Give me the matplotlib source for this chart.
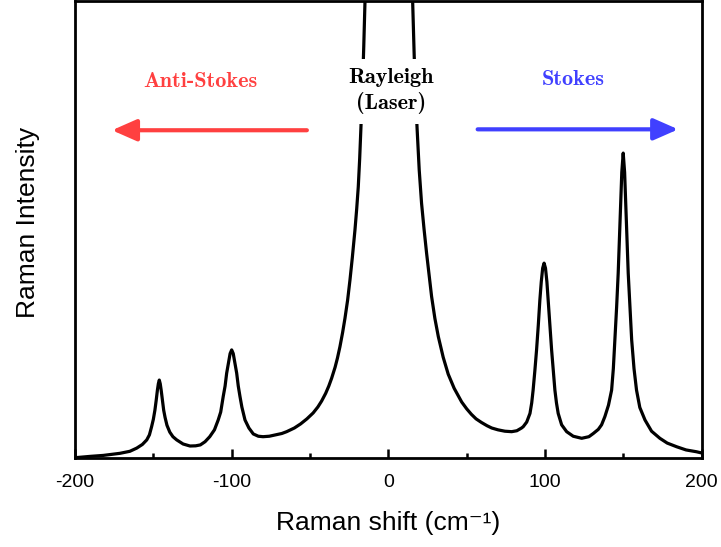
import matplotlib
matplotlib.use('Agg')
import matplotlib.pyplot as plt

# Raman shift (cm^-1) and normalised intensity
shift = [-200, -190, -182, -171.3, -165, -160.6, -157, -154.2, -152.5, -151.1,
         -150, -149, -148.2, -147.4, -146.8, -146.2, -145.6, -145, -144.2, -143.4,
         -142.5, -141.3, -139.5, -137.5, -135.1, -131, -126.6, -123, -120, -117,
         -114, -111, -108.6, -107, -105.4, -104.2, -103.2, -102, -101, -100,
         -99, -98, -96.8, -95.8, -94.7, -93.5, -91.5, -89, -86.2, -83,
         -80, -76, -72, -68, -64.9, -60, -56, -52, -48, -45,
         -42.6, -40, -38, -36.2, -34, -32.5, -30.9, -29.2, -27.7, -26,
         -24.5, -23, -21.3, -20.2, -19.2, -18.3, -17.5, -16.6, -15.7, -14.9,
         -14.5, 0.3, 15.1, 15.5, 16.5, 17.4, 18.4, 19.7, 21.2, 22.8,
         24.4, 26, 27.6, 29.7, 31.9, 35.0, 38.2, 42, 46.8, 50,
         53, 56, 59.5, 63, 66, 70, 74.4, 78.7, 82, 85,
         86.1, 88.3, 90.4, 91.5, 92.4, 93.5, 94.6, 95.7, 96.7, 97.6,
         98.5, 99.4, 100.3, 101.2, 102.0, 103.1, 104.2, 105.3, 106.3, 107.3,
         108.4, 110.6, 113.8, 118, 123.4, 128, 130.8, 134, 136.1, 138.2,
         140.5, 142.5, 143.6, 144.6, 145.7, 146.7, 147.5, 148.2, 149, 149.9,
         150.8, 151.6, 152.4, 153.1, 154.2, 155.3, 156.8, 158.4, 160.5, 163.8,
         168, 173.3, 178, 184, 190, 196.7, 200]
intensity = [0.000, 0.003, 0.005, 0.0096, 0.014, 0.021, 0.029, 0.039, 0.050, 0.068,
             0.084, 0.104, 0.125, 0.148, 0.162, 0.170, 0.162, 0.148, 0.125, 0.104,
             0.088, 0.071, 0.056, 0.046, 0.039, 0.030, 0.0256, 0.026, 0.028, 0.035,
             0.046, 0.061, 0.0826, 0.100, 0.134, 0.157, 0.185, 0.208, 0.228, 0.236,
             0.228, 0.208, 0.185, 0.157, 0.134, 0.111, 0.0826, 0.065, 0.052, 0.047,
             0.046, 0.047, 0.050, 0.053, 0.057, 0.065, 0.074, 0.085, 0.098, 0.111,
             0.124, 0.141, 0.157, 0.174, 0.198, 0.218, 0.243, 0.274, 0.305, 0.345,
             0.389, 0.438, 0.499, 0.545, 0.593, 0.655, 0.721, 0.800, 0.900, 1.000,
             1.05, 3.0, 1.05, 1.000, 0.880, 0.790, 0.717, 0.630, 0.557, 0.500,
             0.448, 0.400, 0.353, 0.305, 0.265, 0.220, 0.183, 0.152, 0.122, 0.107,
             0.095, 0.085, 0.077, 0.070, 0.065, 0.061, 0.058, 0.057, 0.059, 0.065,
             0.068, 0.078, 0.097, 0.120, 0.148, 0.190, 0.236, 0.290, 0.345, 0.385,
             0.415, 0.426, 0.415, 0.385, 0.345, 0.290, 0.236, 0.190, 0.148, 0.120,
             0.097, 0.072, 0.057, 0.047, 0.0425, 0.046, 0.053, 0.062, 0.072, 0.090,
             0.115, 0.148, 0.195, 0.258, 0.330, 0.404, 0.480, 0.550, 0.625, 0.667,
             0.625, 0.550, 0.480, 0.404, 0.330, 0.258, 0.195, 0.148, 0.110, 0.0826,
             0.058, 0.0425, 0.032, 0.024, 0.017, 0.013, 0.0103]

major_ticks = [-200, -100, 0, 100, 200]
minor_ticks = [-150, -50, 50, 150]

plt.rcParams['font.family'] = ['Liberation Sans', 'DejaVu Sans']
plt.rcParams['mathtext.default'] = 'regular'
plt.rcParams['axes.unicode_minus'] = False

W, H = 721, 547
fig = plt.figure(figsize=(W / 100, H / 100), dpi=100)
left, right, bottom, top = 75, 701.7, 457.7, 1.0
ax = fig.add_axes([left / W, (H - bottom) / H, (right - left) / W, (bottom - top) / H])

ax.plot(shift, intensity, color='black', lw=2.3, solid_joinstyle='round', zorder=2)
ax.set_xlim(-200, 200)
ax.set_ylim(0, 1)
ax.set_xticks(major_ticks)
ax.set_xticklabels([str(t) for t in major_ticks])
ax.set_xticks(minor_ticks, minor=True)
ax.set_yticks([])
ax.tick_params(axis='x', which='major', direction='in', length=6.5, width=1.8,
               labelsize=14, pad=12)
ax.tick_params(axis='x', which='minor', direction='in', length=3.5, width=1.8)
for s in ax.spines.values():
    s.set_linewidth(2)

ax.set_xlabel('Raman shift (cm\u207b\u00b9)', fontsize=19)
ax.xaxis.set_label_coords(0.5, -0.116)
ax.set_ylabel('Raman Intensity', fontsize=19)
ax.yaxis.set_label_coords(-0.056, 0.515)

red = '#ff4040'
blue = '#4040ff'
cm_font = 'cmb10'

ax.text(-120, 0.823, 'Anti-Stokes', color=red, family=cm_font, fontsize=16,
        ha='center', va='center', zorder=4)
ax.text(118, 0.829, 'Stokes', color=blue, family=cm_font, fontsize=16,
        ha='center', va='center', zorder=4)
ax.text(2, 0.803, 'Rayleigh\n(Laser)', color='black', family=cm_font, fontsize=16,
        ha='center', va='center', linespacing=1.32, zorder=4,
        bbox=dict(facecolor='white', edgecolor='none', pad=7))

ax.annotate('', xy=(-176.4, 0.717), xytext=(-52, 0.717),
            arrowprops=dict(arrowstyle='-|>,head_length=0.75,head_width=0.33',
                            color=red, lw=3, shrinkA=0, shrinkB=0,
                            mutation_scale=20))
ax.annotate('', xy=(185, 0.719), xytext=(57, 0.719),
            arrowprops=dict(arrowstyle='-|>,head_length=0.75,head_width=0.33',
                            color=blue, lw=3, shrinkA=0, shrinkB=0,
                            mutation_scale=20))

fig.savefig('out.png', dpi=100)
